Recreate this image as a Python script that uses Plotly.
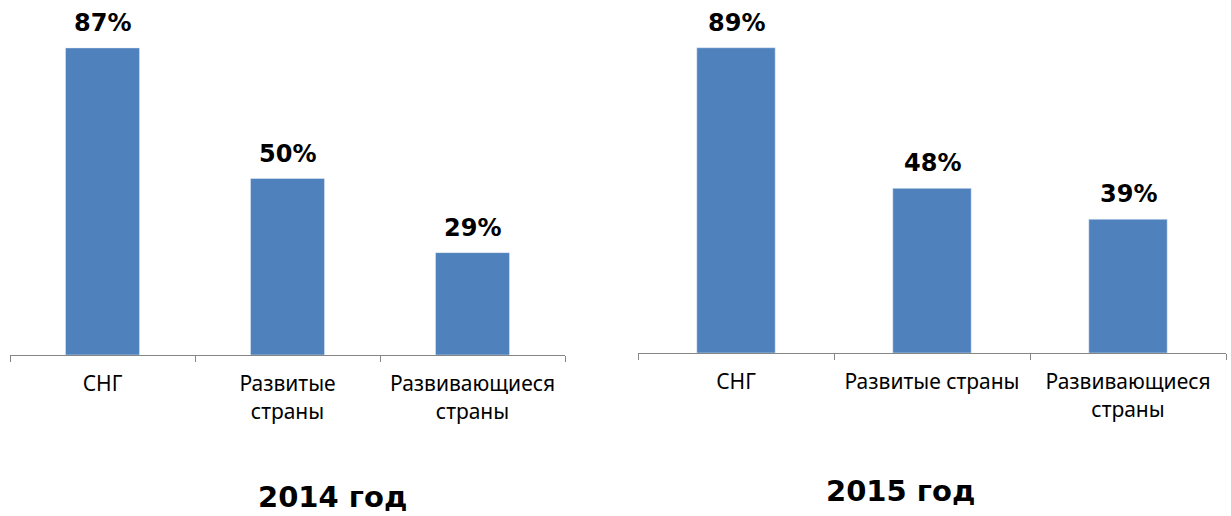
import plotly.graph_objects as go

cats_2014 = ["СНГ", "Развитые<br>страны", "Развивающиеся<br>страны"]
vals_2014 = [87, 50, 29]
cats_2015 = ["СНГ", "Развитые страны", "Развивающиеся<br>страны"]
vals_2015 = [89, 48, 39]
labels_2014 = [f"{v}%" for v in vals_2014]
labels_2015 = [f"{v}%" for v in vals_2015]

W, H = 1231, 516
BAR = "#4F81BD"
AX = "#868686"
tick_font = dict(family="Noto Sans, DejaVu Sans, sans-serif", size=21, color="#000")
lab_font = dict(family="DejaVu Sans, Verdana, sans-serif", size=24, color="#000")
title_font = dict(family="DejaVu Sans, Verdana, sans-serif", size=29, color="#000")

fig = go.Figure()
fig.add_trace(go.Bar(x=cats_2014, y=vals_2014, marker_color=BAR, width=0.4,
                     cliponaxis=False, xaxis="x", yaxis="y"))
fig.add_trace(go.Bar(x=cats_2015, y=vals_2015, marker_color=BAR, width=0.4,
                     cliponaxis=False, xaxis="x2", yaxis="y2"))

def xax(x0, x1, anchor):
    return dict(domain=[x0 / W, x1 / W], anchor=anchor, type="category",
                range=[-0.5, 2.5], showline=True, linecolor=AX, linewidth=1.3,
                ticks="outside", tickson="boundaries", ticklen=6, tickcolor=AX,
                tickwidth=1.3, tickfont=tick_font, showgrid=False, zeroline=False,
                ticklabelstandoff=10)

def yax(bottom_px, top_px, anchor):
    return dict(domain=[1 - bottom_px / H, 1 - top_px / H], anchor=anchor,
                range=[0, 100], visible=False, showgrid=False, zeroline=False)

annotations = []
for cats, vals, labs, xr, yr in [(cats_2014, vals_2014, labels_2014, "x", "y"),
                                 (cats_2015, vals_2015, labels_2015, "x2", "y2")]:
    for c, v, t in zip(cats, vals, labs):
        annotations.append(dict(x=c, y=v, xref=xr, yref=yr, text=f"<b>{t}</b>",
                                showarrow=False, xanchor="center", yanchor="bottom",
                                yshift=9, font=lab_font))

annotations += [
    dict(text="<b>2014 год</b>", x=332 / W, y=1 - 497 / H, xref="paper", yref="paper",
         xanchor="center", yanchor="middle", showarrow=False, font=title_font),
    dict(text="<b>2015 год</b>", x=901 / W, y=1 - 491 / H, xref="paper", yref="paper",
         xanchor="center", yanchor="middle", showarrow=False, font=title_font),
]

fig.update_layout(
    width=W, height=H, margin=dict(l=0, r=0, t=0, b=0),
    paper_bgcolor="white", plot_bgcolor="white", showlegend=False,
    xaxis=xax(10, 565, "y"), yaxis=yax(355, 2, "x"),
    xaxis2=xax(638, 1226, "y2"), yaxis2=yax(353, 10, "x2"),
    annotations=annotations,
)
fig.write_html("out.html")
